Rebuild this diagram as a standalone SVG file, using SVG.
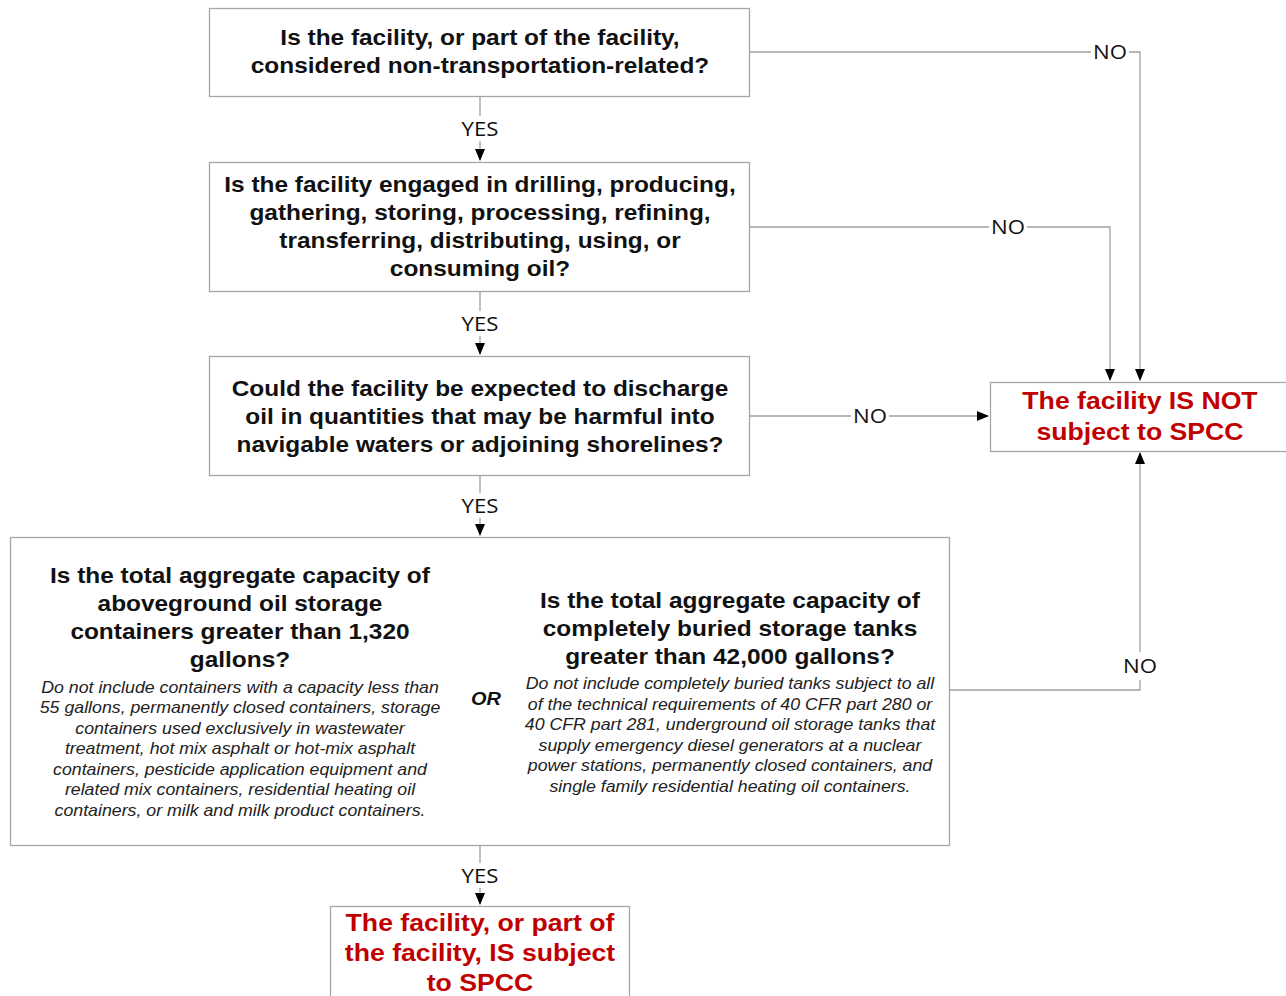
<svg xmlns="http://www.w3.org/2000/svg" width="1286" height="996" viewBox="0 0 1286 996">
<defs>
<marker id="arr" markerWidth="12" markerHeight="10" refX="11" refY="5" orient="auto" markerUnits="userSpaceOnUse">
<path d="M0,0 L12,5 L0,10 Z" fill="#000"/>
</marker>
<style>
.box{fill:#fff;stroke:#a6a6a6;stroke-width:1.3}
.q{font-family:"Liberation Sans",Arial,sans-serif;font-weight:bold;font-size:22px;fill:#111;text-anchor:middle}
.n{font-family:"Liberation Sans",Arial,sans-serif;font-style:italic;font-size:16px;fill:#222;text-anchor:middle}
.r{font-family:"Liberation Sans",Arial,sans-serif;font-weight:bold;font-size:24px;fill:#c00000;text-anchor:middle}
.lbl{font-family:"Open Sans",sans-serif;font-size:20px;fill:#111;text-anchor:middle}
.ln{fill:none;stroke:#a0a0a0;stroke-width:1.3}
</style>
</defs>
<rect width="1286" height="996" fill="#fff"/>
<g id="connectors">
<path class="ln" d="M480,97 V116 M480,141 V160" marker-end="url(#arr)"/>
<path class="ln" d="M480,292 V311 M480,336 V354" marker-end="url(#arr)"/>
<path class="ln" d="M480,476 V493 M480,518 V535" marker-end="url(#arr)"/>
<path class="ln" d="M480,846 V863 M480,888 V904" marker-end="url(#arr)"/>
<path class="ln" d="M750,52 H1091 M1129,52 H1140 V380" marker-end="url(#arr)"/>
<path class="ln" d="M750,227 H989 M1027,227 H1110 V380" marker-end="url(#arr)"/>
<path class="ln" d="M750,416 H851 M889,416 H988" marker-end="url(#arr)"/>
<path class="ln" d="M950,690 H1140 V680 M1140,652 V453" marker-end="url(#arr)"/>
<g transform="matrix(1.11,0,0,1,-52.8,0)">
<text class="lbl" x="480" y="136">YES</text>
<text class="lbl" x="480" y="331">YES</text>
<text class="lbl" x="480" y="513">YES</text>
<text class="lbl" x="480" y="883">YES</text>
</g>
<text class="lbl" x="1110" y="59" transform="matrix(1.11,0,0,1,-122.1,0)">NO</text>
<text class="lbl" x="1008" y="234" transform="matrix(1.11,0,0,1,-110.88,0)">NO</text>
<text class="lbl" x="870" y="423" transform="matrix(1.11,0,0,1,-95.7,0)">NO</text>
<text class="lbl" x="1140" y="673" transform="matrix(1.11,0,0,1,-125.4,0)">NO</text>
</g>
<g id="q1">
<rect class="box" x="209.5" y="8.5" width="540" height="88"/>
<g transform="matrix(1.11,0,0,1,-52.8,0)">
<text class="q" x="480" y="45">Is the facility, or part of the facility,</text>
<text class="q" x="480" y="73">considered non-transportation-related?</text>
</g>
</g>
<g id="q2">
<rect class="box" x="209.5" y="162.5" width="540" height="129"/>
<g transform="matrix(1.11,0,0,1,-52.8,0)">
<text class="q" x="480" y="192">Is the facility engaged in drilling, producing,</text>
<text class="q" x="480" y="220">gathering, storing, processing, refining,</text>
<text class="q" x="480" y="248">transferring, distributing, using, or</text>
<text class="q" x="480" y="276">consuming oil?</text>
</g>
</g>
<g id="q3">
<rect class="box" x="209.5" y="356.5" width="540" height="119"/>
<g transform="matrix(1.11,0,0,1,-52.8,0)">
<text class="q" x="480" y="396">Could the facility be expected to discharge</text>
<text class="q" x="480" y="424">oil in quantities that may be harmful into</text>
<text class="q" x="480" y="452">navigable waters or adjoining shorelines?</text>
</g>
</g>
<g id="q4">
<rect class="box" x="10.5" y="537.5" width="939" height="308"/>
<g transform="matrix(1.11,0,0,1,-26.4,0)">
<text class="q" x="240" y="583">Is the total aggregate capacity of</text>
<text class="q" x="240" y="611">aboveground oil storage</text>
<text class="q" x="240" y="639">containers greater than 1,320</text>
<text class="q" x="240" y="667">gallons?</text>
<text class="n" x="240" y="693">Do not include containers with a capacity less than</text>
<text class="n" x="240" y="713.5">55 gallons, permanently closed containers, storage</text>
<text class="n" x="240" y="734">containers used exclusively in wastewater</text>
<text class="n" x="240" y="754.5">treatment, hot mix asphalt or hot-mix asphalt</text>
<text class="n" x="240" y="775">containers, pesticide application equipment and</text>
<text class="n" x="240" y="795.5">related mix containers, residential heating oil</text>
<text class="n" x="240" y="816">containers, or milk and milk product containers.</text>
</g>
<text x="486" y="705" transform="matrix(1.11,0,0,1,-53.46,0)" style="font-family:'Liberation Sans',Arial,sans-serif;font-weight:bold;font-style:italic;font-size:18px;fill:#111;text-anchor:middle">OR</text>
<g transform="matrix(1.11,0,0,1,-80.3,0)">
<text class="q" x="730" y="608">Is the total aggregate capacity of</text>
<text class="q" x="730" y="636">completely buried storage tanks</text>
<text class="q" x="730" y="664">greater than 42,000 gallons?</text>
<text class="n" x="730" y="689.5">Do not include completely buried tanks subject to all</text>
<text class="n" x="730" y="710">of the technical requirements of 40 CFR part 280 or</text>
<text class="n" x="730" y="730.5">40 CFR part 281, underground oil storage tanks that</text>
<text class="n" x="730" y="751">supply emergency diesel generators at a nuclear</text>
<text class="n" x="730" y="771.5">power stations, permanently closed containers, and</text>
<text class="n" x="730" y="792">single family residential heating oil containers.</text>
</g>
</g>
<g id="yes-result">
<rect class="box" x="330.5" y="906.5" width="299" height="100"/>
<g transform="matrix(1.11,0,0,1,-52.8,0)">
<text class="r" x="480" y="931">The facility, or part of</text>
<text class="r" x="480" y="961">the facility, IS subject</text>
<text class="r" x="480" y="991">to SPCC</text>
</g>
</g>
<g id="no-result">
<rect class="box" x="990.5" y="382.5" width="300" height="69"/>
<g transform="matrix(1.11,0,0,1,-125.4,0)">
<text class="r" x="1140" y="409">The facility IS NOT</text>
<text class="r" x="1140" y="440">subject to SPCC</text>
</g>
</g>
</svg>
